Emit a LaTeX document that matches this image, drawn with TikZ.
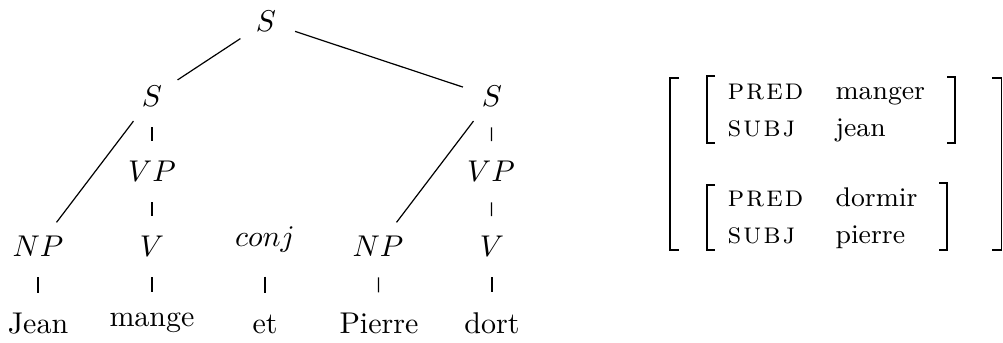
\documentclass[tikz,border=0pt]{standalone}
\newcommand{\featsc}[4]{{\normalsize\textsc{#1\kern0.6pt #2\kern0.6pt #3\kern0.6pt #4}}}
\begin{document}
\begin{tikzpicture}[x=0.33333pt,y=-0.33333pt,
  cat/.style={circle,inner sep=0pt,minimum size=20pt,anchor=base},
  word/.style={inner sep=0pt,anchor=base},
  edge/.style={line width=0.4pt},
  leafedge/.style={line width=0.4pt,shorten >=10.5pt},
  brk/.style={line width=0.6pt},
  feat/.style={inner sep=0pt,anchor=base west,font=\small}]
\useasboundingbox (0,0) rectangle (1003,343);
% tree nodes
\node[cat] (s0) at (266,32) {$S$};
\node[cat] (s1) at (152,107) {$S$};
\node[cat] (s2) at (492,107) {$S$};
\node[cat] (vp1) at (152,182) {$VP$};
\node[cat] (vp2) at (491,182) {$VP$};
\node[cat] (np1) at (38,257) {$NP$};
\node[cat] (v1) at (152,257) {$V$};
\node[cat,minimum size=24pt] (cj) at (265,247) {$conj$};
\node[cat] (np2) at (378,257) {$NP$};
\node[cat] (v2) at (492,257) {$V$};
\node[word] (w1) at (38,334) {Jean};
\node[word] (w2) at (152,327) {mange};
\node[word] (w3) at (265,334) {et};
\node[word] (w4) at (379,334) {Pierre};
\node[word] (w5) at (492,334) {dort};
% edges
\draw[edge] (s0) -- (s1);
\draw[edge] (s0) -- (s2);
\draw[edge] (s1) -- (np1);
\draw[edge] (s1) -- (vp1);
\draw[edge] (vp1) -- (v1);
\draw[edge] (s2) -- (np2);
\draw[edge] (s2) -- (vp2);
\draw[edge] (vp2) -- (v2);
\draw[leafedge] (np1) -- (w1.center);
\draw[leafedge] (v1) -- (w2.center);
\draw[leafedge] (cj) -- (w3.center);
\draw[leafedge] (np2) -- (w4.center);
\draw[leafedge] (v2) -- (w5.center);
% AVM
\node[feat] (a1) at (727,100) {\featsc{p}{r}{e}{d}};
\node[feat] (a2) at (835,100) {manger};
\node[feat] (a3) at (727,137) {\featsc{s}{u}{b}{j}};
\node[feat] (a4) at (835,137) {jean};
\node[feat] (b1) at (727,207) {\featsc{p}{r}{e}{d}};
\node[feat] (b2) at (835,207) {dormir};
\node[feat] (b3) at (727,244) {\featsc{s}{u}{b}{j}};
\node[feat] (b4) at (835,244) {pierre};
\draw[brk] (679,78) -- (670,78) -- (670,250) -- (679,250);
\draw[brk] (992,78) -- (1001.5,78) -- (1001.5,250) -- (992,250);
\draw[brk] (715,76) -- (707,76) -- (707,143) -- (715,143);
\draw[brk] (947,77) -- (955,77) -- (955,143) -- (947,143);
\draw[brk] (715,185) -- (707,185) -- (707,250) -- (715,250);
\draw[brk] (939,183) -- (947,183) -- (947,250) -- (939,250);
\end{tikzpicture}
\end{document}
